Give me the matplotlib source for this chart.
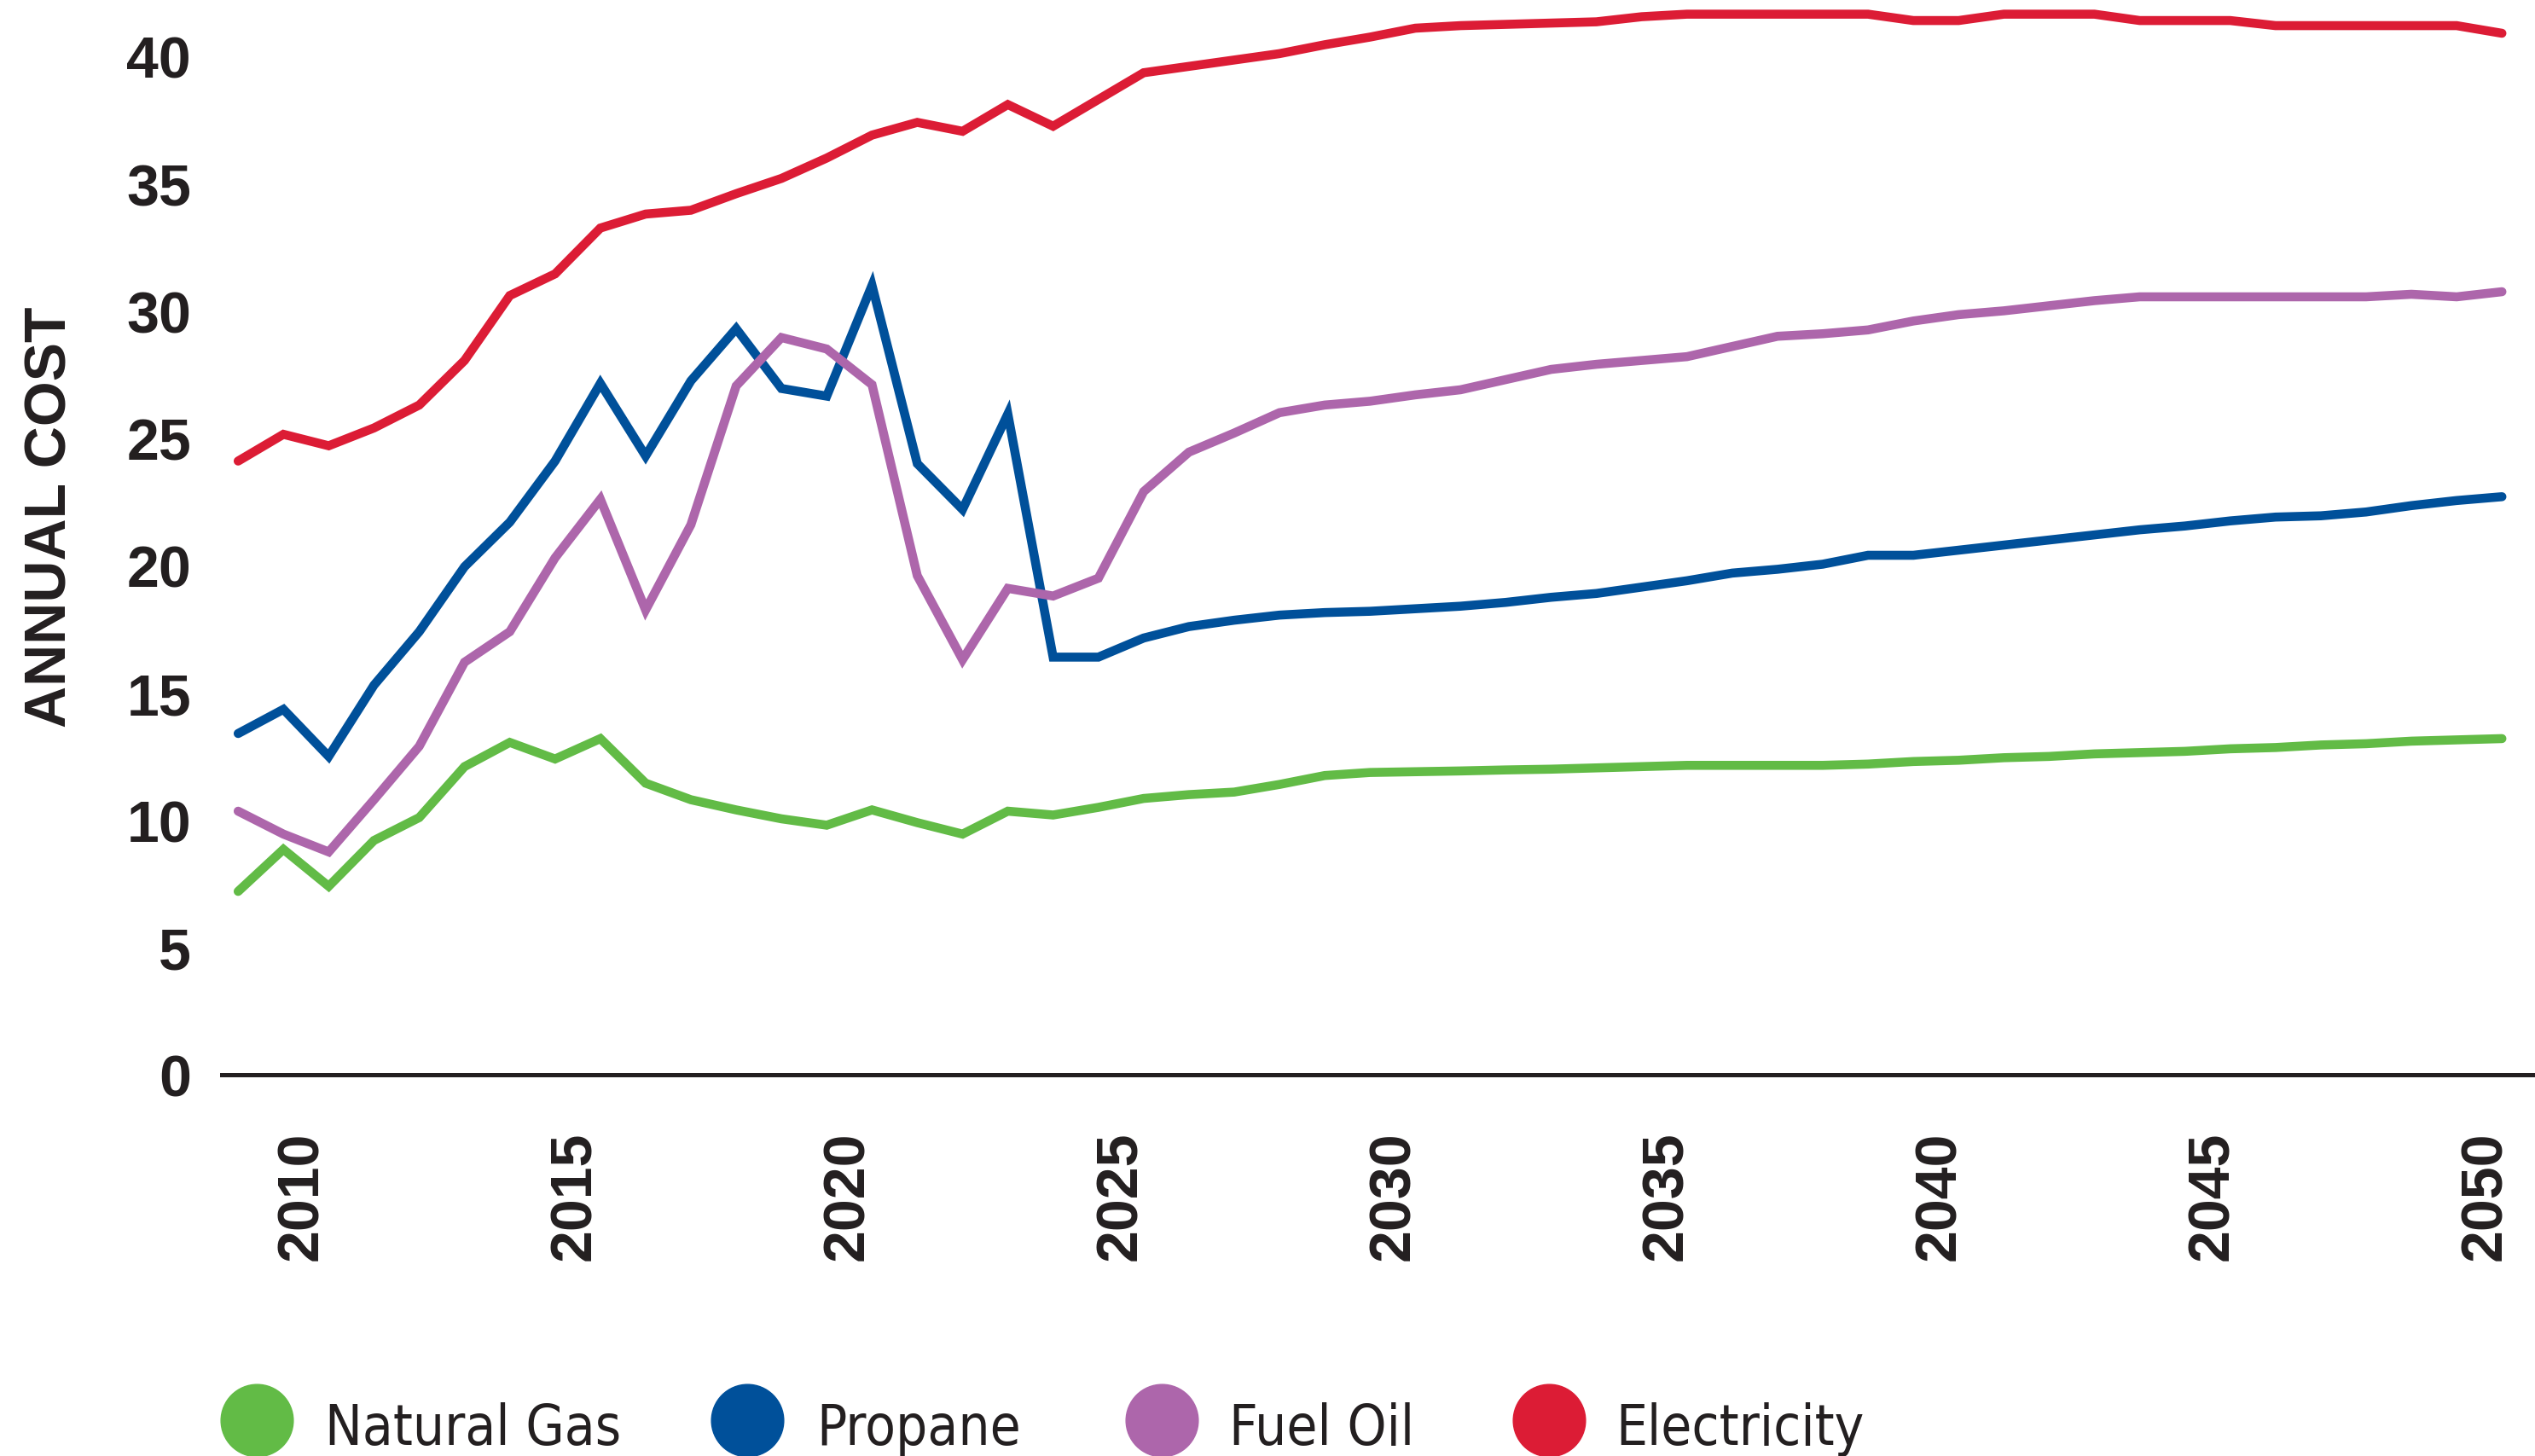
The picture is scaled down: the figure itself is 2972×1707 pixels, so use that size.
import numpy as np
import matplotlib
matplotlib.use('Agg')
import matplotlib.pyplot as plt
from matplotlib.lines import Line2D

# 数据（从图中读取，51个点，2008.8 ~ 2050.3）
natural_gas = [7.2, 8.85, 7.4, 9.2, 10.1, 12.1, 13.05, 12.4, 13.2, 11.45,
               10.8, 10.4, 10.05, 9.8, 10.4, 9.9, 9.45, 10.35, 10.2, 10.5,
               10.85, 11.0, 11.1, 11.4, 11.75, 11.87, 11.9, 11.93, 11.97, 12.0,
               12.05, 12.1, 12.15, 12.15, 12.15, 12.15, 12.2, 12.3, 12.35, 12.45,
               12.5, 12.6, 12.65, 12.7, 12.8, 12.85, 12.95, 13.0, 13.1, 13.15,
               13.2]
propane = [13.4, 14.35, 12.5, 15.3, 17.4, 19.95, 21.7, 24.1, 27.15, 24.3,
           27.25, 29.3, 26.95, 26.65, 31.0, 24.0, 22.2, 25.95, 16.4, 16.4,
           17.15, 17.6, 17.85, 18.05, 18.15, 18.2, 18.3, 18.4, 18.55, 18.75,
           18.9, 19.15, 19.4, 19.7, 19.85, 20.05, 20.4, 20.4, 20.6, 20.8,
           21.0, 21.2, 21.4, 21.55, 21.75, 21.9, 21.95, 22.1, 22.35, 22.55,
           22.7]
fuel_oil = [10.35, 9.45, 8.75, 10.8, 12.9, 16.2, 17.4, 20.3, 22.6, 18.25,
            21.6, 27.05, 28.95, 28.5, 27.1, 19.6, 16.3, 19.1, 18.8, 19.5,
            22.9, 24.45, 25.2, 26.0, 26.3, 26.45, 26.7, 26.9, 27.3, 27.7,
            27.9, 28.05, 28.2, 28.6, 29.0, 29.1, 29.25, 29.6, 29.85, 30.0,
            30.2, 30.4, 30.55, 30.55, 30.55, 30.55, 30.55, 30.55, 30.65, 30.55,
            30.75]
electricity = [24.1, 25.15, 24.7, 25.4, 26.3, 28.05, 30.6, 31.45, 33.25, 33.8,
               33.95, 34.6, 35.2, 36.0, 36.9, 37.4, 37.05, 38.1, 37.25, 38.3,
               39.35, 39.6, 39.85, 40.1, 40.45, 40.75, 41.1, 41.2, 41.25, 41.3,
               41.35, 41.55, 41.65, 41.65, 41.65, 41.65, 41.65, 41.4, 41.4, 41.65,
               41.65, 41.65, 41.4, 41.4, 41.4, 41.2, 41.2, 41.2, 41.2, 41.2,
               40.9]

series_names = ['Natural Gas', 'Propane', 'Fuel Oil', 'Electricity']
series_colors = ['#62BB46', '#00509A', '#AD66AB', '#DC1C35']
year_ticks = [2010, 2015, 2020, 2025, 2030, 2035, 2040, 2045, 2050]
y_ticks = [0, 5, 10, 15, 20, 25, 30, 35, 40]

TEXT_COLOR = '#231F20'
BOLD_FONT = ['Liberation Sans', 'DejaVu Sans']
NARROW_FONT = ['DejaVu Sans', 'Liberation Sans']

W, H = 2972, 1708
fig = plt.figure(figsize=(W / 100, H / 100), dpi=100)
ax = fig.add_axes([260 / W, (H - 1261) / H, 1 - 260 / W, 1261 / H])

x = np.linspace(2008.83, 2050.3, len(electricity))
all_series = [natural_gas, propane, fuel_oil, electricity]
for vals, name, color in zip(all_series, series_names, series_colors):
    ax.plot(x, vals, color=color, linewidth=7.6, label=name,
            solid_capstyle='round', solid_joinstyle='miter', clip_on=False)

ax.set_xlim(2008.53, 2050.906)
ax.set_ylim(0, 42.24)

# 坐标轴样式
for side in ['left', 'right', 'top']:
    ax.spines[side].set_visible(False)
ax.spines['bottom'].set_linewidth(3.6)
ax.spines['bottom'].set_color(TEXT_COLOR)
ax.spines['bottom'].set_zorder(0)

ax.set_xticks(year_ticks)
ax.set_xticklabels([str(t) for t in year_ticks], rotation=90,
                   fontsize=49, fontweight='bold', family=BOLD_FONT,
                   color=TEXT_COLOR)
ax.set_yticks(y_ticks)
ax.set_yticklabels([str(t) for t in y_ticks], fontsize=49,
                   fontweight='bold', family=BOLD_FONT, color=TEXT_COLOR)
ax.tick_params(axis='x', length=0, pad=47)
ax.tick_params(axis='y', length=0, pad=26)

fig.text(60 / W, 1 - 606 / H, 'ANNUAL COST', rotation=90, ha='center',
         va='center', fontsize=49, fontweight='bold', family=BOLD_FONT,
         color=TEXT_COLOR)

# 图例（手动排列：圆点 + 文字）
legend_dot_x = [301, 876, 1362, 1816]
legend_text_x = [381, 957, 1441, 1894]
for name, color, dx, tx in zip(series_names, series_colors,
                               legend_dot_x, legend_text_x):
    fig.add_artist(Line2D([dx / W], [1 - 1666 / H], marker='o',
                          linestyle='none', markersize=61,
                          markerfacecolor=color, markeredgecolor=color,
                          transform=fig.transFigure))
    fig.text(tx / W, 1 - 1694 / H, name, ha='left', va='baseline',
             fontsize=47, family=NARROW_FONT, fontstretch='condensed',
             color=TEXT_COLOR)

fig.savefig('out.png', dpi=100)
